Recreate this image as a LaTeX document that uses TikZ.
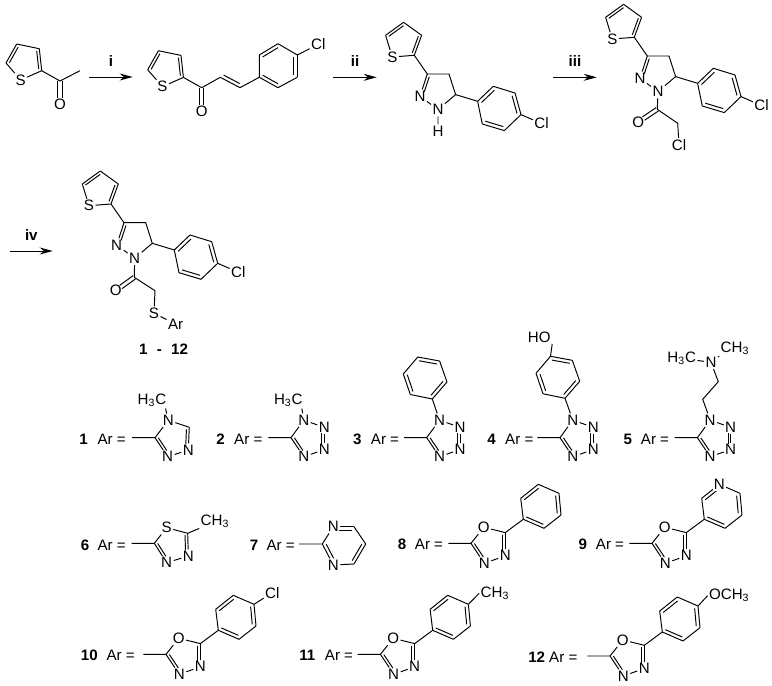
\documentclass[tikz,border=0pt]{standalone}
\usepackage{fontspec}
\setmainfont{Liberation Sans}
\usetikzlibrary{calc,arrows.meta}

\newcommand{\dblbond}[4][]{\draw (#2) -- (#3); \draw[#1] ($(#2)!.18!(#4)$) -- ($(#3)!.18!(#4)$);}
\newcommand{\carbonyl}[2]{
    \draw[shorten >=3.6pt] ($(#1)!1.15pt!90:(#2)$) -- ($(#2)!1.15pt!-90:(#1)$);
    \draw[shorten >=3.6pt] ($(#1)!1.15pt!-90:(#2)$) -- ($(#2)!1.15pt!90:(#1)$);
}

\tikzset{
    atom/.style={font=\fontsize{8.6}{10}\selectfont, inner sep=.6pt},
    numlabel/.style={font=\fontsize{8.6}{10}\selectfont\bfseries, inner sep=.6pt},
    rxnarrow/.style={-{Stealth[length=.26cm,width=.14cm]}},
    % thiophene with the ketone carbon at the origin
    thienylketone/.pic={
        \coordinate (-co) at (0,0);
        \coordinate (-c2) at (-18.3,-10.3);
        \coordinate (-c3) at (-20.7,-32.3);
        \coordinate (-c4) at (-43.3,-37);
        \coordinate (-c5) at (-54,-18);
        \coordinate (-ctr) at (-35,-20);
        \node[atom] (-s) at (-39.3,-1) {S};
        \node[atom] (-o) at (0,23.5) {O};
        \draw (-c2) -- (-s) -- (-c5);
        \draw (-c4) -- (-c3);
        \draw (-c2) -- (-co);
        \dblbond{-c5}{-c4}{-ctr}
        \dblbond{-c3}{-c2}{-ctr}
        \carbonyl{-co}{-o}
    },
    % thienyl pyrazoline with chlorophenyl, C3 of the pyrazoline at the origin
    pyrazoline/.pic={
        \coordinate (-c3) at (0,0);
        \coordinate (-c4) at (21.7,0);
        \coordinate (-c5) at (28.3,20.6);
        \node[atom] (-n1) at (10.7,35.6) {N};
        \node[atom] (-n2) at (-7.3,22.3) {N};
        \coordinate (-ctr) at (10.7,15.7);
        \node[atom] (-s) at (-35,-17) {S};
        \coordinate (-t2) at (-13,-18.7);
        \coordinate (-t3) at (-5.7,-38.7);
        \coordinate (-t4) at (-23.7,-51.7);
        \coordinate (-t5) at (-41.7,-38.7);
        \coordinate (-tctr) at (-24,-33);
        \coordinate (-v1) at (50.3,27.3);
        \coordinate (-v2) at (66,12.3);
        \coordinate (-v3) at (87.7,19);
        \coordinate (-v4) at (93.7,40.6);
        \coordinate (-v5) at (77,56.6);
        \coordinate (-v6) at (55,50);
        \coordinate (-pctr) at (71.6,34.4);
        \node[atom] (-cl) at (114.3,49.6) {Cl};
        \draw (-t2) -- (-s) -- (-t5);
        \draw (-t4) -- (-t3);
        \draw (-t2) -- (-c3) -- (-c4) -- (-c5) -- (-n1) -- (-n2);
        \draw (-c5) -- (-v1);
        \draw (-v2) -- (-v3);
        \draw (-v4) -- (-v5);
        \draw (-v6) -- (-v1);
        \draw (-v4) -- (-cl);
        \dblbond{-t5}{-t4}{-tctr}
        \dblbond{-t3}{-t2}{-tctr}
        \dblbond[shorten >=2pt]{-c3}{-n2}{-ctr}
        \dblbond{-v1}{-v2}{-pctr}
        \dblbond{-v3}{-v4}{-pctr}
        \dblbond{-v5}{-v6}{-pctr}
    },
    % tetrazole, free end of the bond at the origin
    tetrazole/.pic={
        \coordinate (-a) at (0,0);
        \coordinate (-c) at (22.7,0);
        \coordinate (-ctr) at (41.6,.8);
        \node[atom] (-n1) at (35.5,-17.6) {N};
        \node[atom] (-n2) at (56,-10.3) {N};
        \node[atom] (-n3) at (56,11.9) {N};
        \node[atom] (-n4) at (35.5,19) {N};
        \draw (-a) -- (-c) -- (-n1) -- (-n2);
        \draw (-n3) -- (-n4);
        \dblbond[shorten >=2pt]{-c}{-n4}{-ctr}
        \dblbond[shorten <=2pt,shorten >=2pt]{-n2}{-n3}{-ctr}
    },
    % phenyl hanging on top of a tetrazole, ipso carbon at the origin
    phenylup/.pic={
        \coordinate (-v1) at (0,0);
        \coordinate (-v2) at (14.7,-17);
        \coordinate (-v3) at (7.3,-38);
        \coordinate (-v4) at (-14.5,-42);
        \coordinate (-v5) at (-29,-25);
        \coordinate (-v6) at (-22,-4.5);
        \coordinate (-ctr) at (-7,-21);
        \draw (-v2) -- (-v3);
        \draw (-v4) -- (-v5);
        \draw (-v6) -- (-v1);
        \dblbond{-v1}{-v2}{-ctr}
        \dblbond{-v3}{-v4}{-ctr}
        \dblbond{-v5}{-v6}{-ctr}
    },
    % oxadiazole with aryl ring, free end of the bond at the origin
    oxaryl/.pic={
        \coordinate (-a) at (0,0);
        \coordinate (-c1) at (22.7,0);
        \node[atom] (-o) at (35.5,-16) {O};
        \coordinate (-c2) at (57,-10.7);
        \node[atom] (-n2) at (57,12.5) {N};
        \node[atom] (-n1) at (36,20) {N};
        \coordinate (-ctr) at (41.6,1.2);
        \coordinate (-v1) at (75,-24);
        \coordinate (-v2) at (72.4,-45);
        \coordinate (-v3) at (90,-59);
        \coordinate (-v4) at (110.7,-50);
        \coordinate (-v5) at (112.7,-28.3);
        \coordinate (-v6) at (95.7,-15);
        \coordinate (-pctr) at (92,-37);
        \draw (-a) -- (-c1) -- (-o) -- (-c2) -- (-v1);
        \draw (-n2) -- (-n1);
        \draw (-v1) -- (-v2);
        \draw (-v3) -- (-v4);
        \draw (-v5) -- (-v6);
        \dblbond[shorten >=2pt]{-c1}{-n1}{-ctr}
        \dblbond[shorten >=2pt]{-c2}{-n2}{-ctr}
        \dblbond{-v2}{-v3}{-pctr}
        \dblbond{-v4}{-v5}{-pctr}
        \dblbond{-v6}{-v1}{-pctr}
    }
}

\begin{document}
\begin{tikzpicture}[x=.02cm,y=-.02cm,line width=.55pt]
    \useasboundingbox (0,0) rectangle (772,686);

    % acetylthiophene
    \pic (ketone) at (60,81) {thienylketone};
    \coordinate (methyl) at (80,70.7);
    \draw (ketone-co) -- (methyl);

    \coordinate (arrowa) at (89,77);
    \coordinate (arrowb) at (132.7,77);
    \draw[rxnarrow] (arrowa) -- (arrowb) node[numlabel,midway,above=5pt] (stepi) {i};

    % chalcone
    \pic (enone) at (201.7,87.7) {thienylketone};
    \coordinate (enonea) at (220.3,77.3);
    \coordinate (enoneb) at (240,87.7);
    \coordinate (enonec) at (239,65);
    \coordinate (chal1) at (259.3,77.3);
    \coordinate (chal2) at (259.3,55);
    \coordinate (chal3) at (278,43.7);
    \coordinate (chal4) at (297.3,55);
    \coordinate (chal5) at (297.3,77.3);
    \coordinate (chal6) at (278,87.7);
    \coordinate (chalctr) at (278,65.7);
    \node[atom] (chalcl) at (318.3,44.3) {Cl};
    \draw (enone-co) -- (enonea);
    \dblbond{enonea}{enoneb}{enonec}
    \draw (enoneb) -- (chal1) -- (chal2);
    \draw (chal3) -- (chal4);
    \draw (chal5) -- (chal6);
    \draw (chal4) -- (chalcl);
    \dblbond{chal2}{chal3}{chalctr}
    \dblbond{chal4}{chal5}{chalctr}
    \dblbond{chal6}{chal1}{chalctr}

    \coordinate (arrowc) at (333.3,77.3);
    \coordinate (arrowd) at (376.7,77.3);
    \draw[rxnarrow] (arrowc) -- (arrowd) node[numlabel,midway,above=5pt] (stepii) {ii};

    % NH pyrazoline
    \pic (pyrh) at (427.3,74) {pyrazoline};
    \node[atom] (pyrhh) at (438,131) {H};
    \draw (pyrh-n1) -- (pyrhh);

    \coordinate (arrowe) at (553.3,77.3);
    \coordinate (arrowf) at (596.7,77.3);
    \draw[rxnarrow] (arrowe) -- (arrowf) node[numlabel,midway,above=5pt] (stepiii) {iii};

    % chloroacetyl pyrazoline
    \pic (pyrcl) at (647.3,56) {pyrazoline};
    \coordinate (acylc) at (657.3,109.3);
    \coordinate (acylch) at (677.7,123.3);
    \node[atom] (acylo) at (638.3,122) {O};
    \node[atom] (acylcl) at (679,145) {Cl};
    \draw (pyrcl-n1) -- (acylc) -- (acylch) -- (acylcl);
    \carbonyl{acylc}{acylo}

    \coordinate (arrowg) at (10,251);
    \coordinate (arrowh) at (52.7,251);
    \draw[rxnarrow] (arrowg) -- (arrowh) node[numlabel,midway,above=5pt] (stepiv) {iv};

    % products
    \pic (pyrs) at (124,222.7) {pyrazoline};
    \coordinate (prodc) at (134.3,277.3);
    \coordinate (prodch) at (155,290.7);
    \node[atom] (prodo) at (115.7,290.7) {O};
    \node[atom] (prods) at (154,313.3) {S};
    \node[atom] (prodar) at (175.7,324) {Ar};
    \draw (pyrs-n1) -- (prodc) -- (prodch) -- (prods) -- (prodar);
    \carbonyl{prodc}{prodo}
    \node[numlabel] (prodnum) at (163.5,349) {1\hspace{.62em}-\hspace{.62em}12};

    % row labels
    \foreach \num/\xa/\xb/\y in {1/83.7/111.7/439, 2/220.7/248.3/439, 3/357.3/385/439, 4/491.7/519.3/439, 5/627.7/655/439,
        6/85/111.7/545, 7/254/280.7/545, 8/402/429/544.3, 9/582.7/610/544.3,
        10/89.3/120.7/655.7, 11/307.3/339/655.7, 12/536.7/563.3/657.7} {
        \node[numlabel] (num\num) at (\xa,\y) {\num};
        \node[atom] (ar\num) at (\xb,\y) {Ar =};
    }

    % 1: triazole
    \coordinate (triaza) at (132,437.7);
    \coordinate (triazc) at (155,437.7);
    \coordinate (triazh) at (189.3,427.3);
    \coordinate (triazctr) at (173.5,438.4);
    \node[atom] (triazn) at (168.3,420.3) {N};
    \node[atom] (triazna) at (188.3,450) {N};
    \node[atom] (triaznb) at (167.7,456.7) {N};
    \node[atom] (triazme) at (152,400.7) {H\textsubscript{3}C};
    \draw (triaza) -- (triazc) -- (triazn) -- (triazh);
    \draw (triazna) -- (triaznb);
    \draw (triazn) -- (triazme.-30);
    \dblbond[shorten >=2pt]{triazc}{triaznb}{triazctr}
    \dblbond[shorten >=2pt]{triazh}{triazna}{triazctr}

    % 2 - 5: tetrazoles
    \pic (tetb) at (268.3,437.7) {tetrazole};
    \node[atom] (tetbme) at (288.3,400.7) {H\textsubscript{3}C};
    \draw (tetb-n1) -- (tetbme.-30);

    \pic (tetc) at (404,437.7) {tetrazole};
    \pic (phc) at (432.3,399) {phenylup};
    \draw (tetc-n1) -- (phc-v1);

    \pic (tetd) at (537.3,437.7) {tetrazole};
    \pic (phd) at (565,398.3) {phenylup};
    \node[atom] (phdoh) at (539.3,337.3) {HO};
    \draw (tetd-n1) -- (phd-v1);
    \draw (phd-v4) -- (phdoh.south east);

    \pic (tete) at (674.7,437.7) {tetrazole};
    \coordinate (chaina) at (702.7,399.3);
    \coordinate (chainb) at (718.3,381.7);
    \node[atom] (chainn) at (711,362.3) {N};
    \node[atom] (chainmea) at (681.7,358.3) {H\textsubscript{3}C};
    \node[atom] (chainmeb) at (735,348.3) {CH\textsubscript{3}};
    \draw (tete-n1) -- (chaina) -- (chainb) -- (chainn);
    \draw (chainn) -- (chainmea);
    \draw (chainn) -- (chainmeb.south west);

    % 6: thiadiazole
    \coordinate (thiaa) at (131.7,543.3);
    \coordinate (thiac) at (154.3,543.3);
    \coordinate (thiad) at (187.7,533.3);
    \coordinate (thiactr) at (173,544);
    \node[atom] (thias) at (166.7,527.7) {S};
    \node[atom] (thiana) at (188.3,556) {N};
    \node[atom] (thianb) at (166.7,562.7) {N};
    \node[atom] (thiame) at (215,521.7) {CH\textsubscript{3}};
    \draw (thiaa) -- (thiac) -- (thias) -- (thiad) -- (thiame);
    \draw (thiana) -- (thianb);
    \dblbond[shorten >=2pt]{thiac}{thianb}{thiactr}
    \dblbond[shorten >=2pt]{thiad}{thiana}{thiactr}

    % 7: pyrimidine
    \coordinate (pyma) at (299,544);
    \coordinate (pymb) at (322.3,544);
    \coordinate (pymc) at (354,526.7);
    \coordinate (pymd) at (365.7,544);
    \coordinate (pyme) at (354,564);
    \coordinate (pymctr) at (344,545);
    \node[atom] (pymna) at (333.3,526.7) {N};
    \node[atom] (pymnb) at (333.3,565) {N};
    \draw (pyma) -- (pymb) -- (pymna);
    \draw (pymc) -- (pymd);
    \draw (pyme) -- (pymnb);
    \dblbond[shorten >=2pt]{pymb}{pymnb}{pymctr}
    \dblbond[shorten <=2pt]{pymna}{pymc}{pymctr}
    \dblbond{pymd}{pyme}{pymctr}

    % 8 - 12: oxadiazoles
    \pic (oxh) at (448.3,543.3) {oxaryl};

    \pic (oxi) at (629.3,543.3) {oxaryl};
    \node[atom,fill=white] (oxin) at (oxi-v3) {N};

    \pic (oxj) at (143.3,654.3) {oxaryl};
    \node[atom] (oxjcl) at (272.3,592.7) {Cl};
    \draw (oxj-v4) -- (oxjcl);

    \pic (oxk) at (357.7,654.3) {oxaryl};
    \node[atom] (oxkme) at (495,593.3) {CH\textsubscript{3}};
    \draw (oxk-v4) -- (oxkme.west);

    \pic (oxl) at (587.3,656) {oxaryl};
    \node[atom] (oxlome) at (729.3,595.7) {OCH\textsubscript{3}};
    \draw (oxl-v4) -- (oxlome.west);
\end{tikzpicture}
\end{document}
